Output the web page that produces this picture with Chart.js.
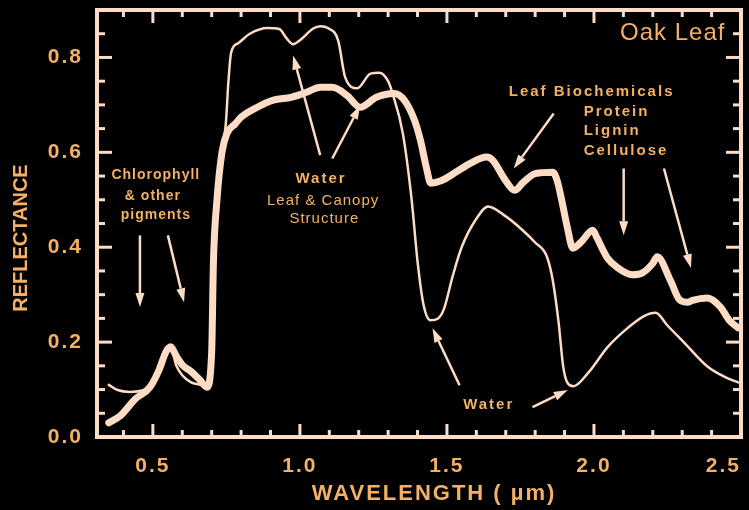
<!DOCTYPE html>
<html>
<head>
<meta charset="utf-8">
<script src="https://cdn.jsdelivr.net/npm/chart.js@4.4.0/dist/chart.umd.min.js"></script>
<style>
    html, body { margin: 0; padding: 0; background: #000; }
    #wrap { width: 749px; height: 510px; }
</style>
</head>
<body>
<div id="wrap"><canvas id="chart1" width="749" height="510"></canvas></div>
<script>
// dry leaf (thick line)
const dryWl = [
    0.35, 0.39, 0.44, 0.49, 0.52, 0.545, 0.56, 0.58, 0.60, 0.63,
    0.66, 0.684, 0.70, 0.706, 0.718, 0.735, 0.752, 0.78, 0.80, 0.855,
    0.91, 0.97, 1.02, 1.07, 1.11, 1.16, 1.205, 1.26, 1.32, 1.355,
    1.39, 1.41, 1.43, 1.445, 1.48, 1.535, 1.58, 1.635, 1.656, 1.70,
    1.73, 1.76, 1.80, 1.86, 1.875, 1.89, 1.91, 1.928, 1.955, 1.996,
    2.01, 2.045, 2.08, 2.13, 2.165, 2.20, 2.215, 2.26, 2.29, 2.32,
    2.335, 2.386, 2.43, 2.46, 2.49
];
const dryR = [
    0.030, 0.045, 0.080, 0.105, 0.14, 0.18, 0.19, 0.17, 0.152, 0.138,
    0.12, 0.105, 0.18, 0.37, 0.50, 0.60, 0.64, 0.66, 0.674, 0.695,
    0.71, 0.716, 0.726, 0.737, 0.737, 0.72, 0.695, 0.716, 0.724, 0.71,
    0.667, 0.625, 0.568, 0.535, 0.54, 0.56, 0.577, 0.59, 0.583, 0.54,
    0.52, 0.537, 0.555, 0.558, 0.54, 0.50, 0.44, 0.398, 0.41, 0.436,
    0.42, 0.378, 0.357, 0.342, 0.346, 0.366, 0.38, 0.33, 0.29, 0.284,
    0.288, 0.293, 0.274, 0.246, 0.23
];
// fresh leaf (thin line)
const freshWl = [
    0.35, 0.38, 0.42, 0.47, 0.50, 0.52, 0.545, 0.56, 0.58, 0.60,
    0.63, 0.66, 0.684, 0.70, 0.706, 0.718, 0.735, 0.748, 0.757, 0.766,
    0.79, 0.83, 0.89, 0.93, 0.955, 0.977, 1.00, 1.045, 1.07, 1.095,
    1.13, 1.154, 1.195, 1.24, 1.27, 1.30, 1.315, 1.35, 1.38, 1.40,
    1.42, 1.444, 1.47, 1.49, 1.52, 1.55, 1.60, 1.64, 1.70, 1.75,
    1.80, 1.84, 1.86, 1.88, 1.895, 1.91, 1.93, 1.98, 2.047, 2.115,
    2.17, 2.21, 2.25, 2.305, 2.387, 2.45, 2.49
];
const freshR = [
    0.11, 0.099, 0.095, 0.099, 0.109, 0.14, 0.178, 0.19, 0.15, 0.13,
    0.115, 0.11, 0.105, 0.18, 0.37, 0.50, 0.60, 0.66, 0.75, 0.81,
    0.83, 0.85, 0.862, 0.86, 0.84, 0.828, 0.836, 0.861, 0.866, 0.862,
    0.836, 0.758, 0.735, 0.766, 0.768, 0.75, 0.724, 0.64, 0.50, 0.37,
    0.28, 0.246, 0.25, 0.27, 0.34, 0.40, 0.46, 0.486, 0.465, 0.44,
    0.41, 0.38, 0.33, 0.24, 0.15, 0.114, 0.107, 0.135, 0.19, 0.23,
    0.255, 0.262, 0.235, 0.20, 0.148, 0.125, 0.115
];

const xMin = 0.31;
const xTicks = [0.5, 1.0, 1.5, 2.0, 2.5];
const yTicks = [0.0, 0.2, 0.4, 0.6, 0.8];

const cream = '#fcdcc5';
const orange = '#f4b064';

// annotation text, placed in data units [wavelength, reflectance]
const notes = [
    { text: 'Oak Leaf', at: [2.268, 0.851], align: 'center', font: '24px "Liberation Sans"', sp: '1px' },
    { text: 'Chlorophyll', at: [0.51, 0.552], align: 'center', font: 'bold 14px "Liberation Sans"', sp: '1px' },
    { text: '& other', at: [0.50, 0.507], align: 'center', font: 'bold 14px "Liberation Sans"', sp: '1px' },
    { text: 'pigments', at: [0.51, 0.467], align: 'center', font: 'bold 14px "Liberation Sans"', sp: '1px' },
    { text: 'Water', at: [1.072, 0.545], align: 'center', font: 'bold 15px "Liberation Sans"', sp: '2px' },
    { text: 'Leaf & Canopy', at: [1.079, 0.497], align: 'center', font: '15px "Liberation Sans"', sp: '1px' },
    { text: 'Structure', at: [1.083, 0.459], align: 'center', font: '15px "Liberation Sans"', sp: '1px' },
    { text: 'Leaf Biochemicals', at: [1.992, 0.728], align: 'center', font: 'bold 15px "Liberation Sans"', sp: '2px' },
    { text: 'Protein', at: [1.965, 0.686], align: 'left', font: 'bold 15px "Liberation Sans"', sp: '2px' },
    { text: 'Lignin', at: [1.965, 0.646], align: 'left', font: 'bold 15px "Liberation Sans"', sp: '2px' },
    { text: 'Cellulose', at: [1.965, 0.604], align: 'left', font: 'bold 15px "Liberation Sans"', sp: '2px' },
    { text: 'Water', at: [1.642, 0.067], align: 'center', font: 'bold 15px "Liberation Sans"', sp: '2px' }
];

// arrows: [fromWl, fromR, toWl, toR]
const arrows = [
    [0.456, 0.425, 0.456, 0.274],
    [0.551, 0.425, 0.606, 0.284],
    [1.069, 0.594, 0.977, 0.804],
    [1.110, 0.587, 1.205, 0.699],
    [1.863, 0.682, 1.727, 0.566],
    [2.101, 0.566, 2.101, 0.425],
    [2.238, 0.566, 2.330, 0.356],
    [1.543, 0.109, 1.451, 0.229],
    [1.791, 0.063, 1.911, 0.099]
];

function pts(wl, r) {
    return wl.map((w, i) => ({ x: w, y: r[i] }));
}

const decor = {
    id: 'decor',
    beforeDraw(chart) {
        const c = chart.ctx;
        c.save();
        c.fillStyle = '#000';
        c.fillRect(0, 0, chart.width, chart.height);
        c.restore();
        c.letterSpacing = '2px';
    },
    afterDraw(chart) {
        const c = chart.ctx;
        const xs = chart.scales.x, ys = chart.scales.y, a = chart.chartArea;
        c.save();
        c.letterSpacing = '0px';
        c.strokeStyle = cream;
        c.fillStyle = cream;
        c.lineCap = 'butt';

        // frame
        c.lineWidth = 4;
        c.strokeRect(a.left, a.top, a.right - a.left, a.bottom - a.top);

        // inward ticks
        c.lineWidth = 3;
        const seg = (x1, y1, x2, y2) => { c.beginPath(); c.moveTo(x1, y1); c.lineTo(x2, y2); c.stroke(); };
        for (let i = 4; i <= 24; i++) {
            const px = xs.getPixelForValue(i / 10);
            const len = i % 5 === 0 ? 13 : 7;
            seg(px, a.bottom, px, a.bottom - len);
            seg(px, a.top, px, a.top + len);
        }
        for (let i = 1; i <= 17; i++) {
            const py = ys.getPixelForValue(i * 0.05);
            const len = i % 4 === 0 ? 15 : 8;
            seg(a.left, py, a.left + len, py);
            seg(a.right, py, a.right - len, py);
        }

        // arrows
        c.lineWidth = 2.5;
        arrows.forEach(([w1, r1, w2, r2]) => {
            const x1 = xs.getPixelForValue(w1), y1 = ys.getPixelForValue(r1);
            const x2 = xs.getPixelForValue(w2), y2 = ys.getPixelForValue(r2);
            const ang = Math.atan2(y2 - y1, x2 - x1);
            const hl = 14, hw = 4.5;
            const bx = x2 - hl * Math.cos(ang), by = y2 - hl * Math.sin(ang);
            seg(x1, y1, bx, by);
            c.beginPath();
            c.moveTo(x2, y2);
            c.lineTo(bx + hw * Math.sin(ang), by - hw * Math.cos(ang));
            c.lineTo(bx - hw * Math.sin(ang), by + hw * Math.cos(ang));
            c.closePath();
            c.fill();
        });

        // annotation text
        c.fillStyle = orange;
        c.textBaseline = 'middle';
        notes.forEach(n => {
            c.font = n.font;
            c.letterSpacing = n.sp;
            c.textAlign = n.align;
            c.fillText(n.text, xs.getPixelForValue(n.at[0]), ys.getPixelForValue(n.at[1]));
        });

        // axis titles
        c.font = 'bold 22px "Liberation Sans"';
        c.letterSpacing = '2px';
        c.textAlign = 'center';
        c.fillText('WAVELENGTH ( \u00b5m)', 434, 494);

        c.save();
        c.translate(21, 238);
        c.rotate(-Math.PI / 2);
        c.font = 'bold 20px "Liberation Sans"';
        c.letterSpacing = '0px';
        c.fillText('REFLECTANCE', 0, 0);
        c.restore();

        c.restore();
    }
};

window.addEventListener('DOMContentLoaded', () => {
    const ctx1 = document.getElementById('chart1').getContext('2d');
    new Chart(ctx1, {
        type: 'line',
        data: {
            datasets: [{
                label: 'Dry leaf',
                data: pts(dryWl, dryR),
                borderColor: cream,
                borderWidth: 7,
                pointRadius: 0,
                fill: false,
                cubicInterpolationMode: 'monotone',
                borderCapStyle: 'round',
                borderJoinStyle: 'round'
            }, {
                label: 'Fresh leaf',
                data: pts(freshWl, freshR),
                borderColor: cream,
                borderWidth: 2.5,
                pointRadius: 0,
                fill: false,
                cubicInterpolationMode: 'monotone',
                borderCapStyle: 'round',
                borderJoinStyle: 'round'
            }]
        },
        options: {
            responsive: false,
            animation: false,
            devicePixelRatio: 1,
            events: [],
            layout: { padding: { top: 10, right: 8, left: 0, bottom: 0 } },
            plugins: {
                legend: { display: false },
                tooltip: { enabled: false }
            },
            scales: {
                x: {
                    type: 'linear',
                    min: xMin,
                    max: 2.5,
                    grid: { display: false, drawTicks: false },
                    border: { display: false },
                    // blank tick at the left edge so that 'inner' alignment only moves the last label
                    afterBuildTicks: s => { s.ticks = [xMin, ...xTicks].map(v => ({ value: v })); },
                    afterFit: s => {
                        s.height = 73;
                        s.paddingLeft = 0;
                        s.paddingRight = 0;
                    },
                    ticks: {
                        color: orange,
                        padding: 17,
                        maxRotation: 0,
                        align: 'inner',
                        font: { family: 'Liberation Sans', size: 21, weight: 'bold' },
                        callback: v => (v === xMin ? '' : v.toFixed(1))
                    }
                },
                y: {
                    min: 0,
                    max: 0.9,
                    grid: { display: false, drawTicks: false },
                    border: { display: false },
                    afterBuildTicks: s => { s.ticks = yTicks.map(v => ({ value: v })); },
                    afterFit: s => {
                        s.width = 97;
                        s.paddingTop = 0;
                        s.paddingBottom = 0;
                    },
                    ticks: {
                        color: orange,
                        padding: 14,
                        font: { family: 'Liberation Sans', size: 21, weight: 'bold' },
                        callback: v => v.toFixed(1)
                    }
                }
            }
        },
        plugins: [decor]
    });
});
</script>
</body>
</html>
